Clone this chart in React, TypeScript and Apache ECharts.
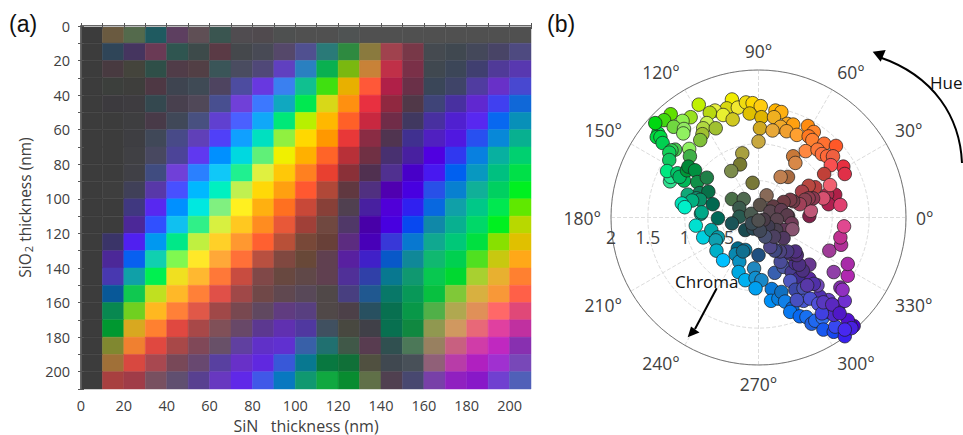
import React, { useEffect, useRef } from "react";
import * as echarts from "echarts";

const FONT = "'Open Sans', sans-serif";
const TEXT = "#404040";

const thicknessStep = 10;
const thicknessMax = 210;

// Reflected colour for each SiO2 row (top to bottom) and SiN column (left to right)
const cellRows = [
  "3c3c3c 6a5a40 546a4c 1f5a60 5d3f60 5f4f55 3a5550 504c50 504a4e 4e5050 505050 505050 4f5353 505050 505050 505050 505050 505050 505050 505050 505050",
  "3c3c3c 2f4558 45355f 6a3a55 2f5550 3d4a4a 5a3a45 45484c 484a55 55486a 505090 2a7a78 2e8a40 8a7a3e a0424e 783848 454a50 404850 44485a 484466 4e4a80",
  "3c3c3c 483a40 44443c 2f4f48 503c48 523f45 3a5558 4a4c60 504878 6040c0 2a80c0 0ab050 7ab810 c88238 c03048 7a3048 404850 3c4658 403f70 503a98 5838b0",
  "3c3c3c 3c3f3c 3e3e3c 4e3844 3e4450 3f4a55 4e4460 4d4ca0 6838e0 3a80f0 10c090 40e010 e8b000 ff5838 b02048 6a3048 3a4658 3f4468 503ca0 6830c8 4848d0",
  "3c3c3c 3c3a3e 3e3c40 34484f 48404e 504858 484f90 7040d8 3c78ff 10a8c0 00e850 d8d818 ff9010 e83040 902840 503848 3f4478 4830a0 6028d0 4040f0 1068d8",
  "3c3c3c 3c3c3c 3e3e40 483a48 404858 485080 6040d0 4a60ff 10a8f8 00e878 b8f000 ffb800 ff6028 c82840 702c48 403860 4830a0 5020d0 5828f0 0868f0 0890b8",
  "3c3c3c 3c3c3c 3e3e42 404858 484a88 6040b8 5040f8 10a0ff 00e0c0 90f040 ffd800 ff9800 e83838 8a2c44 503450 403090 5020c0 5018e0 2850f0 0888d8 08b090",
  "3c3c3c 3c3c3c 404044 484860 4c4498 6038f0 0090ff 00d8e0 60f078 f0f000 ffb000 ff6428 b83038 703044 483070 4820a0 5000e0 3038f0 0880e0 08b0a0 00d070",
  "3c3c3c 3c3c3c 404046 404c80 7040d8 2a80ff 10c8f8 20f090 e0f040 ffc808 ff8020 e84030 8a3038 503050 503090 4800c8 4818f0 0060f0 0898c0 00c080 00e048",
  "3c3c3c 3e3e3e 404058 5838a8 4850ff 00b8ff 00f0c0 c0f050 ffd808 ffa010 ff5830 b04838 603840 503080 5000b0 4800e0 2850e8 0880d0 10b098 00d060 00f020",
  "3c3c3c 3c3c3c 403880 5828f0 0090ff 00e8e0 80f080 fff020 ffb010 ff7020 c84838 884038 504050 4820a0 5000d8 3020f0 0868e0 10a0a8 00c888 00e850 60e800",
  "3c3c3c 3c3c3c 4c2898 3050ff 10c0f0 30f088 d8f040 ffc820 ff8c20 e85838 a04038 704840 503868 4800a8 4800e0 0848f0 1088a8 08b090 00d868 00f020 b8d800",
  "3c3c3c 3a3468 5020f0 0098f0 00e888 c0f040 ffd028 ff9830 ff6030 b85038 784838 684038 5c2c80 4800b8 3838d8 0878d0 10a890 00c878 00e040 88e000 e0c000",
  "3c3c3c 4c2898 0860f0 10d0b0 80f850 ffe828 ffa838 ff7038 b85040 804840 684838 604050 5820a0 4020c8 0858c8 108898 10b870 00d050 50e020 c8c810 ffa818",
  "3c3c3c 4838b0 10a0a8 00f050 f0e020 ffb830 ff7838 c84c40 804848 684840 604848 604050 503098 3040a8 087890 109870 08c850 00d830 a8d030 e8b030 ff8030",
  "3c3c3c 085898 10c850 c0e020 ffb828 ff8038 e05048 a04848 704848 604850 584858 504848 483f80 205890 087868 089858 08c040 80c838 d8b040 f89838 ff6048",
  "3c3c3c 088850 70d020 ffb820 ff8038 e05848 a04848 784850 604860 603c80 583f80 504848 4c4048 285060 087050 089848 50b048 b0a850 e09058 ff6868 e04878",
  "3c3c3c 009830 d8a820 ff8030 e04840 a84848 805058 684868 5c3890 6030b0 5038a0 405060 484840 404048 087050 108840 909850 d09860 e86878 e040a0 c030a0",
  "3c3c3c 808830 f08030 e04840 a84848 804858 685068 6040a0 6030c8 6030d0 3860a8 207070 405848 583c50 305050 4c7858 988060 c86080 d03ca8 c028c0 8830b0",
  "3c3c3c a07038 d84840 a84850 784858 684870 5840a0 6830c8 6028e0 3858d8 087890 087840 107038 505040 404850 485058 906078 b83ca8 b020c0 a030d0 7848b8",
  "3c3c3c a84040 a03c48 785060 604f70 584090 6838c0 6028e8 4058e8 0878c0 109870 10a840 088c30 607048 504050 484870 7840a8 9020c0 8818c8 7040d0 5060b8",
];

// Chroma-plane readings: [horizontal, vertical, colour]; hue and chroma follow from them
const greenYellowPoints: [number, number, string][] = [
  [-0.81,1.53,"#c0f000"],[-0.36,1.60,"#f0ec00"],[-0.43,1.48,"#d8d810"],[-0.28,1.49,"#f0e830"],[-0.17,1.56,"#f0dc10"],
  [-0.08,1.55,"#ffd800"],[0.03,1.51,"#ffcc10"],[-0.12,1.41,"#e0c000"],[-0.59,1.45,"#e8f040"],[-0.66,1.42,"#b8d810"],
  [-0.48,1.39,"#e8f030"],[-0.35,1.33,"#d0c820"],[0.04,1.36,"#e0b400"],[-1.19,1.40,"#60e000"],[-1.28,1.32,"#40d810"],
  [-0.92,1.36,"#98e020"],[-1.03,1.31,"#90f050"],[-1.15,1.23,"#70d840"],[-1.01,1.20,"#90e860"],[-1.02,1.14,"#90f060"],
  [-0.70,1.28,"#c8f050"],[-0.75,1.21,"#b0d840"],[-0.58,1.21,"#a0c030"],[-0.76,1.13,"#a0c030"],[-0.79,1.05,"#80c038"],
  [-1.36,1.14,"#00e040"],[-1.38,1.09,"#00d840"],[-1.33,1.09,"#00d840"],[-1.30,1.01,"#00d050"],[-1.40,1.28,"#00d810"],
  [-0.94,0.93,"#90f060"],[-0.93,0.83,"#40b048"],[-1.13,0.92,"#48c850"],[-1.18,0.91,"#30d050"],[-1.21,0.88,"#10d058"],
  [-1.21,0.78,"#10c860"],[-1.20,0.49,"#30e090"],[-1.19,0.55,"#20e890"],[-1.24,0.63,"#00e880"],[-1.10,0.60,"#00c868"],
  [-1.01,0.50,"#00b858"],[-1.07,0.55,"#00b860"],[-0.97,0.64,"#009838"],[-0.95,0.69,"#008838"],[-0.86,0.64,"#009040"],
  [-0.83,0.48,"#109048"],[-0.70,0.54,"#208048"],[0.02,1.21,"#d0a820"],[0,1.03,"#c8a840"],[-0.22,0.87,"#a8a040"],
  [-0.25,0.72,"#787a30"],[-0.37,0.63,"#7c8c4c"],[-0.08,0.47,"#787838"],
];
const tealBluePoints: [number, number, string][] = [
  [-0.80,0.33,"#108058"],[-0.68,0.35,"#087048"],[-0.96,0.31,"#10a878"],[-0.84,0.26,"#109070"],[-0.79,0.24,"#089068"],
  [-0.62,0.18,"#006850"],[-0.90,0.23,"#00b080"],[-1.04,0.19,"#00e0b8"],[-1.00,0.14,"#00f0c8"],[-0.78,0.05,"#08a088"],
  [-0.77,0.07,"#00a888"],[-0.55,-0.01,"#006858"],[-0.85,-0.11,"#00e0d0"],[-0.75,-0.27,"#00d0e0"],[-0.64,-0.17,"#00a8a8"],
  [-0.55,-0.27,"#089ca8"],[-0.58,-0.31,"#10a0b0"],[-0.57,-0.45,"#00b0c8"],[-0.48,-0.58,"#00c0ff"],[-0.28,-0.42,"#006888"],
  [-0.18,-0.44,"#0878a0"],[-0.31,-0.50,"#0888b0"],[-0.26,-0.60,"#0890c0"],[-0.21,-0.46,"#107090"],[-0.27,-0.74,"#00a8e0"],
  [-0.18,-0.85,"#00b0f0"],[-0.06,-0.69,"#2088c0"],[-0.04,-0.82,"#1090d0"],[0.04,-0.85,"#1888c8"],[-0.04,-0.96,"#00a0f0"],
  [0.18,-0.97,"#0878d8"],[0.17,-1.13,"#0090f8"],[0.27,-1.10,"#0880e0"],[0.31,-1.01,"#1070c0"],[0.36,-1.14,"#1080e8"],
  [0.46,-1.23,"#0868e0"],[0.43,-1.28,"#0878f0"],[0.56,-1.34,"#0868f0"],[0.65,-1.35,"#1870f0"],[0.72,-1.44,"#2060e0"],
  [0.77,-1.40,"#2068f0"],[0.87,-1.36,"#3070f0"],[0.88,-1.52,"#1858f0"],[1.02,-1.55,"#1848f0"],[1.04,-1.48,"#3848f0"],
];
const violetPoints: [number, number, string][] = [
  [1.17,-1.61,"#3820f0"],[1.29,-1.47,"#4800d0"],[1.24,-1.45,"#4808d8"],[1.21,-1.39,"#5010d0"],[1.26,-1.50,"#4820e0"],
  [1.17,-1.52,"#4828f0"],[1.08,-1.21,"#5800c0"],[1.17,-1.13,"#7030d0"],[0.95,-1.12,"#6840c8"],[1.11,-0.95,"#8030a8"],
  [1.14,-0.98,"#9030c0"],[0.83,-1.07,"#5030b0"],[0.80,-0.92,"#7048b8"],[0.69,-0.83,"#5828a0"],[0.69,-0.64,"#683890"],
  [1.02,-0.74,"#9040a8"],[1.21,-0.79,"#b028b0"],[1.21,-0.63,"#a82ca8"],[0.96,-0.45,"#a03c98"],[1.12,-0.37,"#b03098"],
  [1.11,-0.27,"#c03090"],[1.16,-0.12,"#e04890"],[0.22,-0.75,"#3860b0"],[0.34,-0.67,"#4c58a0"],[0.45,-0.74,"#483c90"],
  [0.54,-0.83,"#402c90"],[0.43,-0.86,"#5058c0"],[0.50,-0.98,"#3c48a8"],[0.61,-0.96,"#4850b0"],[0.61,-1.13,"#4858d0"],
  [0.52,-1.12,"#4850c0"],[0.70,-1.10,"#4c50d0"],[0.81,-1.17,"#5050d8"],[0.93,-1.28,"#5038d0"],[1.02,-1.32,"#5028c8"],
  [0.86,-1.30,"#4040e0"],[0.60,-0.72,"#4c3080"],[0.50,-0.62,"#4a3088"],[0.30,-0.60,"#4a4c98"],[0.75,-0.90,"#5030a8"],
  [0.66,-0.92,"#5838a8"],[0.88,-1.15,"#5838c0"],[1.00,-1.18,"#5a28c0"],[1.10,-1.30,"#5018c8"],[0.55,-0.64,"#4c3080"],
  [0.47,-0.49,"#503070"],[0.43,-0.49,"#4c3070"],[0.52,-0.51,"#502e78"],[0.50,-0.46,"#503080"],[0.39,-0.46,"#4a3a80"],
  [0.29,-0.46,"#4c4480"],[0.23,-0.44,"#5c4c90"],[0.22,-0.45,"#404880"],[0.16,-0.40,"#504888"],[0,-0.51,"#205080"],
];
const orangeRedPoints: [number, number, string][] = [
  [0.23,1.45,"#ffb400"],[0.31,1.43,"#ffb010"],[0.21,1.36,"#f0b020"],[0.39,1.27,"#f8a820"],[0.47,1.26,"#ffa010"],
  [0.30,1.23,"#f0a828"],[0.19,1.18,"#e8a838"],[0.38,1.17,"#f0a030"],[0.52,1.12,"#ffa030"],[0.67,1.24,"#ff8c10"],
  [0.75,1.16,"#ff8428"],[0.68,1.10,"#ff7820"],[0.73,1.05,"#ff8030"],[0.89,1.00,"#ff7030"],[1.05,0.97,"#ff5828"],
  [0.64,0.90,"#ff8840"],[0.80,0.92,"#ff7838"],[0.86,0.86,"#ff7040"],[0.93,0.83,"#ff6838"],[1.01,0.83,"#f06040"],
  [1.15,0.69,"#e83040"],[1.17,0.59,"#e03048"],[0.98,0.71,"#f85050"],[0.89,0.59,"#c04038"],[0.47,0.83,"#c87838"],
  [0.50,0.74,"#d88848"],[0.40,0.55,"#a86a40"],[0.30,0.55,"#c08050"],[0.77,0.41,"#b84040"],[0.68,0.43,"#b84840"],
  [1.04,0.31,"#b02048"],[0.93,0.31,"#b02c50"],[0.97,0.44,"#f06070"],[0.95,0.18,"#b02050"],[0.88,0.26,"#d85070"],
  [1.11,0.17,"#e04070"],[0.59,0.35,"#a84048"],[0.69,0.02,"#802048"],[0.71,0.09,"#c05878"],[0.74,0.26,"#883850"],
  [0.68,0.26,"#903c50"],[0.63,0.24,"#884050"],[0.56,0.18,"#a04058"],[0.47,0.22,"#703c48"],[0.43,0.24,"#783c48"],
  [0.34,0.21,"#703c44"],[0.29,0.10,"#603850"],[0.20,0.15,"#603c44"],[0.40,0.02,"#5a3c50"],
];
const darkCentrePoints: [number, number, string][] = [
  [-0.36,0.25,"#4a7048"],[-0.20,0.25,"#506a50"],[-0.26,0.13,"#3a5a4c"],[-0.26,0.01,"#285a50"],[-0.36,-0.08,"#1a5458"],
  [-0.18,-0.17,"#1a4a50"],[-0.07,-0.15,"#2a4a58"],[-0.10,0.05,"#4a5a50"],[0.11,0.30,"#886a58"],[0.02,0.17,"#5a5048"],
  [0.16,0.08,"#5a4650"],[0.31,0.10,"#603c50"],[0.39,0.03,"#5a3c4c"],[0.25,-0.03,"#5a4450"],[0.45,-0.08,"#703c58"],
  [0.35,-0.17,"#603858"],[0.46,-0.16,"#885470"],[0.24,-0.17,"#4a4050"],[0.13,-0.12,"#403c50"],[0.07,-0.03,"#4a3c48"],
  [0.34,-0.28,"#503860"],[0.21,-0.26,"#4c4060"],[0.09,-0.26,"#485070"],[0.02,-0.18,"#404858"],[-0.09,-0.08,"#3a4c55"],
  [0,-0.04,"#505050"],
];
const chromaPoints = [...greenYellowPoints, ...tealBluePoints, ...violetPoints, ...orangeRedPoints, ...darkCentrePoints];

const radialTicks = [0, 0.5, 1, 1.5, 2];

export default function App() {
  const ref = useRef<HTMLDivElement>(null);
  useEffect(() => {
    document.body.style.margin = "0";
    const chart = echarts.init(ref.current!, undefined, { renderer: "svg" });
    const cells: number[][] = [];
    cellRows.forEach((row, i) =>
      row.split(" ").forEach((_, j) => cells.push([j * thicknessStep, i * thicknessStep, i, j]))
    );
    const palette = cellRows.map((r) => r.split(" "));
    const frameTick = { show: true, inside: true, length: 3, lineStyle: { color: "#555", width: 1 } };
    const evenOnly = (v: number) => (v % 20 === 0 ? String(v) : "");
    chart.setOption({
      animation: false,
      textStyle: { fontFamily: FONT },
      grid: { left: 81, top: 26, width: 450, height: 363, show: false, outerBoundsMode: "none", containLabel: false },
      xAxis: [
        {
          type: "value", min: 0, max: thicknessMax, interval: thicknessStep, z: 5,
          name: "SiN   thickness (nm)", nameLocation: "middle", nameGap: 27,
          nameTextStyle: { fontFamily: FONT, fontSize: 16, color: TEXT },
          axisLine: { lineStyle: { color: "#444", width: 1.5 } }, axisTick: frameTick,
          axisLabel: { formatter: evenOnly, color: TEXT, fontFamily: FONT, fontSize: 14.5, margin: 9, hideOverlap: false },
          splitLine: { show: false },
        },
        {
          type: "value", position: "top", min: 0, max: thicknessMax, interval: thicknessStep, z: 5,
          axisLine: { lineStyle: { color: "#bbb", width: 1 } }, axisTick: frameTick,
          axisLabel: { show: false }, splitLine: { show: false },
        },
      ],
      yAxis: [
        {
          type: "value", inverse: true, min: 0, max: thicknessMax, interval: thicknessStep, z: 5,
          name: "{t|SiO}{s|2}{t| thickness (nm)}", nameLocation: "middle", nameGap: 47, nameRotate: 90,
          nameTextStyle: {
            fontFamily: FONT, fontSize: 15.5, color: TEXT,
            rich: {
              t: { fontFamily: FONT, fontSize: 15.5, color: TEXT },
              s: { fontFamily: FONT, fontSize: 11, color: TEXT, verticalAlign: "bottom", padding: [8, 0, 0, 1] },
            },
          },
          axisLine: { lineStyle: { color: "#999", width: 1 } }, axisTick: frameTick,
          axisLabel: { formatter: evenOnly, color: TEXT, fontFamily: FONT, fontSize: 14.5, margin: 11, hideOverlap: false },
          splitLine: { show: false },
        },
        {
          type: "value", position: "right", inverse: true, min: 0, max: thicknessMax, interval: thicknessStep, z: 5,
          axisLine: { lineStyle: { color: "#444", width: 1.5 } }, axisTick: frameTick,
          axisLabel: { show: false }, splitLine: { show: false },
        },
      ],
      polar: [
        { center: [758.5, 217.5], radius: 147.5 },
        { center: [758.5, 217.5], radius: 147.5 },
      ],
      angleAxis: [
        {
          polarIndex: 0, type: "value", min: 0, max: 360, interval: 30, startAngle: 0, clockwise: false,
          axisLine: { lineStyle: { color: "#777", width: 1 } }, axisTick: { show: false },
          axisLabel: { formatter: (v: number) => `${v}°`, color: TEXT, fontFamily: FONT, fontSize: 17.5, margin: 10 },
          splitLine: { lineStyle: { type: "dashed", color: "#dcdcdc", width: 1 } },
        },
        {
          polarIndex: 1, type: "value", min: 0, max: 360, interval: 30, startAngle: 180, clockwise: false,
          axisLine: { show: false }, axisTick: { show: false }, axisLabel: { show: false }, splitLine: { show: false },
        },
      ],
      radiusAxis: [
        {
          polarIndex: 0, type: "value", min: 0, max: 2, interval: 0.5,
          axisLine: { show: false }, axisTick: { show: false }, axisLabel: { show: false },
          splitLine: { lineStyle: { type: "dashed", color: "#dcdcdc", width: 1 } },
        },
        {
          polarIndex: 1, type: "value", min: radialTicks[0], max: radialTicks[4], interval: radialTicks[1],
          axisLine: { show: false }, axisTick: { show: false }, splitLine: { show: false },
          axisLabel: { showMinLabel: false, color: TEXT, fontFamily: FONT, fontSize: 17.5, margin: 10 },
        },
      ],
      series: [
        {
          type: "custom", coordinateSystem: "cartesian2d", xAxisIndex: 0, yAxisIndex: 0,
          data: cells, encode: { x: 0, y: 1 },
          renderItem: (_: any, api: any) => {
            const x = api.value(0), y = api.value(1);
            const a = api.coord([x, y]);
            const b = api.coord([x + thicknessStep, y + thicknessStep]);
            const fill = "#" + palette[api.value(2)][api.value(3)];
            return {
              type: "rect",
              shape: { x: a[0], y: a[1], width: b[0] - a[0], height: b[1] - a[1] },
              style: { fill, stroke: fill, lineWidth: 0.5 },
            };
          },
        },
        {
          type: "scatter", coordinateSystem: "polar", polarIndex: 0, symbolSize: 13.5,
          data: chromaPoints.map(([h, v, color]) => ({
            value: [Math.hypot(h, v), ((Math.atan2(v, h) * 180) / Math.PI + 360) % 360],
            itemStyle: { color, borderColor: "rgba(30,30,30,0.8)", borderWidth: 0.9, opacity: 1 },
          })),
        },
      ],
      graphic: [
        { type: "text", z: 100, x: 9, y: 12, style: { text: "(a)", fontFamily: "'Liberation Sans', sans-serif", fontSize: 23, fill: "#111" } },
        { type: "text", z: 100, x: 547, y: 12, style: { text: "(b)", fontFamily: "'Liberation Sans', sans-serif", fontSize: 23, fill: "#111" } },
        { type: "bezierCurve", z: 100, shape: { x1: 962, y1: 163, x2: 879, y2: 57, cpx1: 960, cpy1: 118, cpx2: 935, cpy2: 76 }, style: { stroke: "#000", lineWidth: 2, fill: "none" } },
        { type: "polygon", z: 100, shape: { points: [[872.7, 51.7], [885.7, 50], [880.7, 61.7]] }, style: { fill: "#000" } },
        { type: "text", z: 100, x: 930, y: 74, style: { text: "Hue", fontFamily: FONT, fontSize: 17, fill: "#111" } },
        { type: "line", z: 100, shape: { x1: 716.7, y1: 288.3, x2: 695, y2: 329 }, style: { stroke: "#000", lineWidth: 2 } },
        { type: "polygon", z: 100, shape: { points: [[687.7, 337.3], [691, 326.5], [699.5, 332.5]] }, style: { fill: "#000" } },
        { type: "text", z: 100, x: 675, y: 273, style: { text: "Chroma", fontFamily: FONT, fontSize: 17, fill: "#111" } },
      ],
    });
    return () => chart.dispose();
  }, []);
  return <div ref={ref} style={{ position: "absolute", left: 0, top: 0, width: 963, height: 435 }} />;
}
